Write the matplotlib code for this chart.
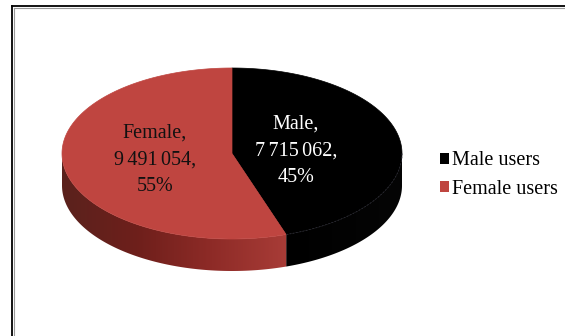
import matplotlib.pyplot as plt
import numpy as np
from matplotlib.patches import Polygon, Patch
from matplotlib.lines import Line2D
from matplotlib.colors import LinearSegmentedColormap

# Users by gender
names = ['Male', 'Female']
legend_labels = ['Male users', 'Female users']
users = [7715062, 9491054]
colors = ['#000000', '#BF4540']
text_colors = ['white', '#111111']

# Pie geometry in pixel units (y grows downward)
CX, CY = 232, 153.5
RX, RY = 170, 85.5
DEPTH = 32


def arc(t0, t1, dy=0, n=200):
    t = np.radians(np.linspace(t0, t1, n))
    return np.column_stack([CX + RX * np.sin(t), CY - RY * np.cos(t) + dy])


def fmt(v):
    return f'{v:,}'.replace(',', '\u2006')


fig = plt.figure(figsize=(5.65, 3.36), dpi=100)
ax = fig.add_axes([0, 0, 1, 1])
ax.set_xlim(0, 565)
ax.set_ylim(336, 0)
ax.axis('off')

plt.rcParams['font.family'] = ['Liberation Serif', 'DejaVu Serif']

total = sum(users)
fracs = [u / total for u in users]
starts = np.concatenate([[0], np.cumsum(fracs)[:-1]]) * 360
ends = np.cumsum(fracs) * 360

side_cmaps = [
    LinearSegmentedColormap.from_list('side0', ['#000000', '#050505']),
    LinearSegmentedColormap.from_list('side1', ['#A83C37', '#8E2B27', '#6E1F1B', '#5A221D']),
]

# front walls
for i in range(len(users)):
    t0, t1 = max(starts[i], 90), min(ends[i], 270)
    if t0 >= t1:
        continue
    top = arc(t0, t1)
    bot = arc(t0, t1, DEPTH)[::-1]
    poly = Polygon(np.vstack([top, bot]), closed=True, facecolor='none', edgecolor='none')
    ax.add_patch(poly)
    x0, x1 = top[:, 0].min(), top[:, 0].max()
    grad = np.linspace(0, 1, 256).reshape(1, -1)
    if i == 1:
        grad = grad[:, ::-1]
    im = ax.imshow(grad, cmap=side_cmaps[i], aspect='auto',
                   extent=[x0, x1, CY + RY + DEPTH + 2, CY - 2], zorder=1)
    im.set_clip_path(poly)

# top faces
for i in range(len(users)):
    pts = np.vstack([[CX, CY], arc(starts[i], ends[i])])
    ax.add_patch(Polygon(pts, closed=True, facecolor=colors[i], edgecolor=colors[i],
                         lw=0.5, zorder=2))

# faint rim on the dark wall
rim = arc(90, ends[0])
ax.plot(rim[:, 0], rim[:, 1], color='#2a2a34', lw=0.6, ls=(0, (2, 2)), zorder=3)

# slice labels
label_pos = [(296, 151), (155, 160)]
for i in range(len(users)):
    pct = round(fracs[i] * 100)
    ax.text(*label_pos[i], f'{names[i]},\n{fmt(users[i])},\n{pct}%',
            ha='center', va='center', fontsize=14.5, color=text_colors[i],
            linespacing=1.55, zorder=4)

handles = [Patch(facecolor=c, edgecolor='none') for c in colors]
ax.legend(handles, legend_labels, loc='center left', bbox_to_anchor=(432 / 565, 1 - 175 / 336),
          frameon=False, fontsize=14.5, handlelength=0.45, handleheight=0.45,
          handletextpad=0.15, labelspacing=0.45, borderaxespad=0)

# chart frame: left and top edges only
W, H = 565, 336
for off, col, lw in [(11.5, 'black', 1.3), (13.5, '#9a9a9a', 0.8)]:
    top_y = 1 - (off - 6) / H
    fig.add_artist(Line2D([off / W, off / W], [0, top_y], transform=fig.transFigure,
                          color=col, lw=lw))
    fig.add_artist(Line2D([off / W, 1], [top_y, top_y], transform=fig.transFigure,
                          color=col, lw=lw))

fig.savefig('out.png', dpi=100)
